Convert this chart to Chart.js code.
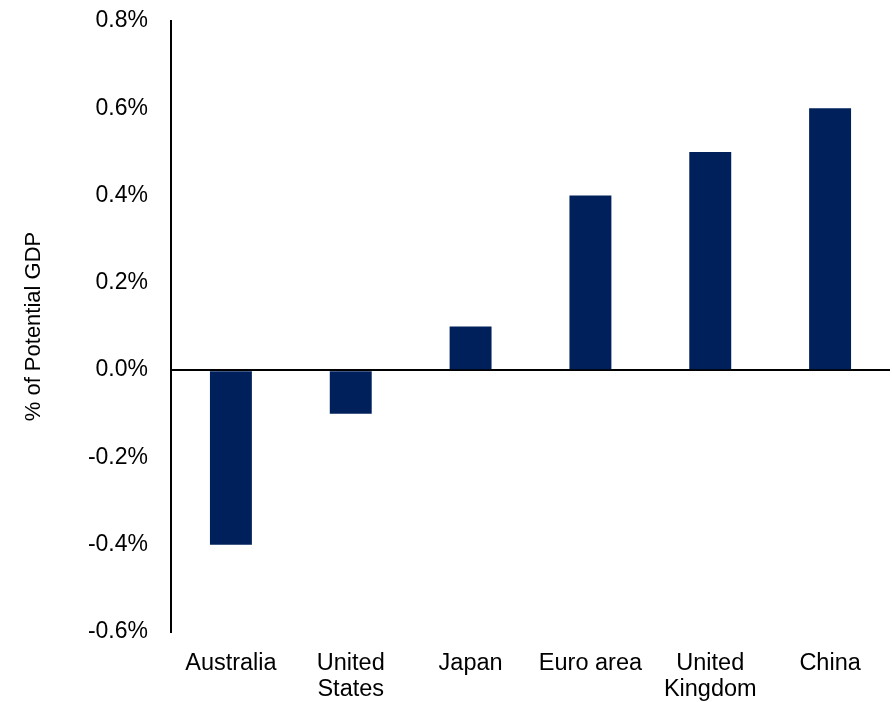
<!DOCTYPE html>
<html>
<head>
<meta charset="utf-8">
<script src="https://cdn.jsdelivr.net/npm/chart.js@4.4.1/dist/chart.umd.min.js"></script>
<style>
  html, body { margin: 0; padding: 0; background: #fff; }
  #wrap { width: 892px; height: 702px; }
</style>
</head>
<body>
<div id="wrap"><canvas id="gap-chart"></canvas></div>
<script>
// economies and their estimated output gap, % of potential GDP
var countries = [['Australia'], ['United', 'States'], ['Japan'], ['Euro area'], ['United', 'Kingdom'], ['China']];
var gapValues = [-0.4, -0.1, 0.1, 0.4, 0.5, 0.6];
var yTicks = [-0.6, -0.4, -0.2, 0.0, 0.2, 0.4, 0.6, 0.8];

Chart.defaults.font.family = "'Liberation Sans', Arial, sans-serif";
Chart.defaults.color = '#000';

var ctx = document.getElementById('gap-chart').getContext('2d');
var gapChart = new Chart(ctx, {
    type: 'bar',
    data: {
        labels: countries,
        datasets: [{
            label: 'Output gap',
            data: gapValues,
            backgroundColor: '#00205b',
            borderWidth: 0,
            categoryPercentage: 1,
            barPercentage: 0.35
        }]
    },
    options: {
        responsive: true,
        maintainAspectRatio: false,
        animation: false,
        layout: { padding: { top: 21, right: 2, bottom: 0, left: 0 } },
        plugins: {
            legend: { display: false },
            tooltip: { enabled: false }
        },
        scales: {
            x: {
                grid: { display: false, drawTicks: false },
                border: { display: false },
                ticks: {
                    padding: 19,
                    maxRotation: 0,
                    font: { size: 23.5, lineHeight: 1.1 }
                },
                afterFit: function (scale) { scale.height = 70; }
            },
            y: {
                min: -0.6,
                max: 0.8,
                afterBuildTicks: function (scale) {
                    scale.ticks = yTicks.map(function (v) { return { value: v }; });
                },
                grid: {
                    drawTicks: false,
                    lineWidth: 2,
                    // only the zero line is drawn
                    color: function (c) { return c.tick && Math.abs(c.tick.value) < 1e-9 ? '#000' : 'rgba(0,0,0,0)'; }
                },
                border: { display: true, color: '#000', width: 2 },
                ticks: {
                    padding: 23,
                    font: { size: 23 },
                    callback: function (v) { return Number(v).toFixed(1) + '%'; }
                },
                title: {
                    display: true,
                    text: '% of Potential GDP',
                    font: { size: 22 },
                    padding: { top: 21, bottom: 0 }
                },
                afterFit: function (scale) {
                    scale.width = 171;
                    scale.paddingTop = 0;
                    scale.paddingBottom = 0;
                }
            }
        }
    }
});
</script>
</body>
</html>
